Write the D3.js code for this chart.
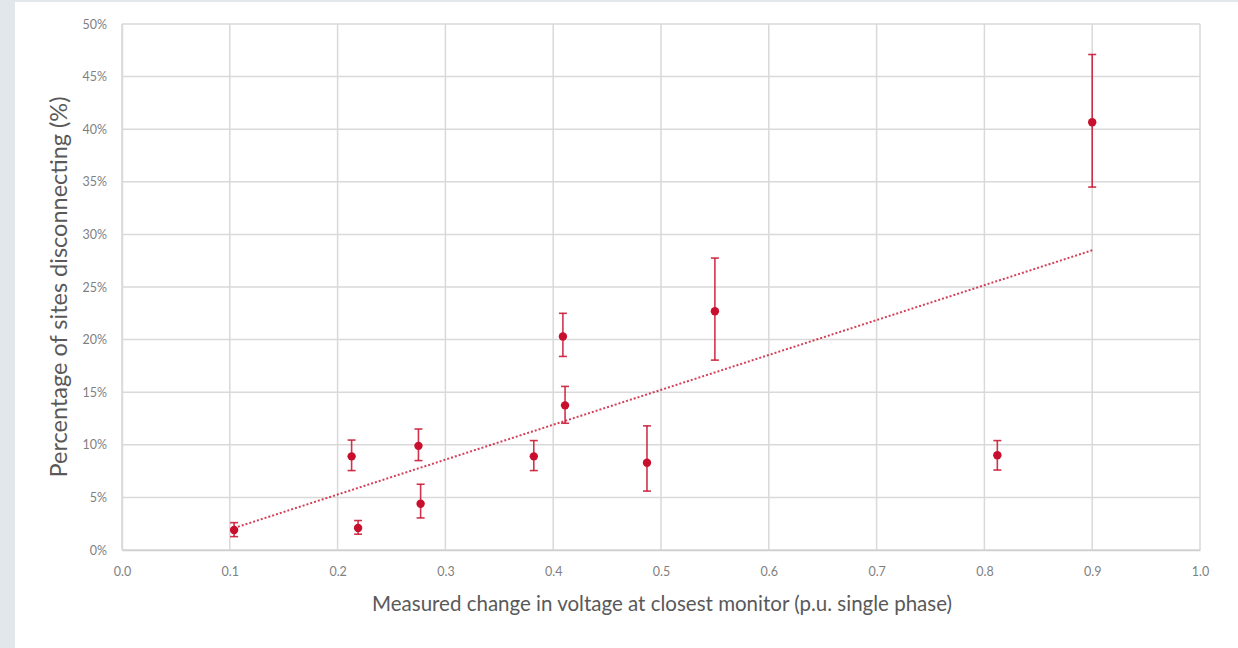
<!DOCTYPE html>
<html>
<head>
<meta charset="utf-8">
<script src="https://cdn.jsdelivr.net/npm/d3@7"></script>
<style>
  html, body { margin: 0; padding: 0; background: #e1e7ea; }
  svg { display: block; }
  text { font-family: Lato, "Open Sans", sans-serif; fill: #595959; }
</style>
</head>
<body>
<svg id="chart" width="1238" height="648"></svg>
<script>
// data
const voltageChange = [0.104, 0.213, 0.219, 0.275, 0.277, 0.382, 0.409, 0.411, 0.487, 0.550, 0.812, 0.900];
const pctDisconnect = [1.9, 8.9, 2.1, 9.9, 4.4, 8.9, 20.3, 13.75, 8.3, 22.7, 9.0, 40.66];
const errUpper = [2.6, 10.45, 2.8, 11.5, 6.25, 10.4, 22.5, 15.55, 11.8, 27.75, 10.4, 47.1];
const errLower = [1.27, 7.55, 1.5, 8.5, 3.05, 7.55, 18.4, 12.05, 5.6, 18.05, 7.6, 34.5];
const xTicks = [0, 0.1, 0.2, 0.3, 0.4, 0.5, 0.6, 0.7, 0.8, 0.9, 1.0];
const yTicks = [0, 5, 10, 15, 20, 25, 30, 35, 40, 45, 50];

const red = "#c8102e";
const svg = d3.select("#chart");

// white panel
svg.append("rect").attr("x", 15).attr("y", 2).attr("width", 1223).attr("height", 646).attr("fill", "#ffffff");

const x = d3.scaleLinear().domain([0, 1]).range([122, 1200]);
const y = d3.scaleLinear().domain([0, 50]).range([550, 24]);

// gridlines
const grid = svg.append("g");
grid.selectAll("line.h").data(yTicks).enter().append("line")
  .attr("x1", x(0)).attr("x2", x(1))
  .attr("y1", d => y(d)).attr("y2", d => y(d))
  .attr("stroke", "#d9d9d9").attr("stroke-width", 1.5);
grid.selectAll("line.v").data(xTicks).enter().append("line")
  .attr("y1", y(0)).attr("y2", y(50))
  .attr("x1", d => x(d)).attr("x2", d => x(d))
  .attr("stroke", "#d9d9d9").attr("stroke-width", 1.5);

// axes labels
const xAxis = svg.append("g").attr("transform", `translate(0,${y(0)})`)
  .call(d3.axisBottom(x).tickValues(xTicks).tickFormat(d3.format(".1f")).tickSize(0).tickPadding(17));
xAxis.select(".domain").attr("stroke", "#d0d0d0").attr("stroke-width", 1.5);
xAxis.selectAll("text").attr("font-size", 12.5).style("fill", "#7f7f7f");

const yAxis = svg.append("g").attr("transform", `translate(${x(0)},0)`)
  .call(d3.axisLeft(y).tickValues(yTicks).tickFormat(d => d + "%").tickSize(0).tickPadding(15));
yAxis.select(".domain").attr("stroke", "#d9d9d9").attr("stroke-width", 1.5);
yAxis.selectAll("text").attr("font-size", 12.5).style("fill", "#7f7f7f");

// linear trendline (least squares)
const n = voltageChange.length;
const mx = d3.mean(voltageChange), my = d3.mean(pctDisconnect);
let sxy = 0, sxx = 0;
for (let i = 0; i < n; i++) {
  sxy += (voltageChange[i] - mx) * (pctDisconnect[i] - my);
  sxx += (voltageChange[i] - mx) ** 2;
}
const slope = sxy / sxx, intercept = my - slope * mx;
const xMin = d3.min(voltageChange), xMax = d3.max(voltageChange);
svg.append("line")
  .attr("x1", x(xMin)).attr("y1", y(intercept + slope * xMin))
  .attr("x2", x(xMax)).attr("y2", y(intercept + slope * xMax))
  .attr("stroke", red).attr("stroke-opacity", 0.8)
  .attr("stroke-width", 2).attr("stroke-dasharray", "2,2");

// error bars
const pts = voltageChange.map((v, i) => ({ v, p: pctDisconnect[i], hi: errUpper[i], lo: errLower[i] }));
const eb = svg.append("g").attr("stroke", red).attr("stroke-opacity", 0.85).attr("stroke-width", 1.6);
eb.selectAll("line.stem").data(pts).enter().append("line")
  .attr("x1", d => x(d.v)).attr("x2", d => x(d.v))
  .attr("y1", d => y(d.hi)).attr("y2", d => y(d.lo));
eb.selectAll("line.top").data(pts).enter().append("line")
  .attr("x1", d => x(d.v) - 4).attr("x2", d => x(d.v) + 4)
  .attr("y1", d => y(d.hi)).attr("y2", d => y(d.hi));
eb.selectAll("line.bot").data(pts).enter().append("line")
  .attr("x1", d => x(d.v) - 4).attr("x2", d => x(d.v) + 4)
  .attr("y1", d => y(d.lo)).attr("y2", d => y(d.lo));

// markers
svg.append("g").selectAll("circle").data(pts).enter().append("circle")
  .attr("cx", d => x(d.v)).attr("cy", d => y(d.p)).attr("r", 4.2)
  .attr("fill", red);

// axis titles
svg.append("text")
  .attr("x", 662).attr("y", 611)
  .attr("text-anchor", "middle").attr("font-size", 20.5)
  .text("Measured change in voltage at closest monitor (p.u. single phase)");
svg.append("text")
  .attr("transform", "translate(67,287) rotate(-90)")
  .attr("text-anchor", "middle").attr("font-size", 23.5)
  .text("Percentage of sites disconnecting (%)");
</script>
</body>
</html>
